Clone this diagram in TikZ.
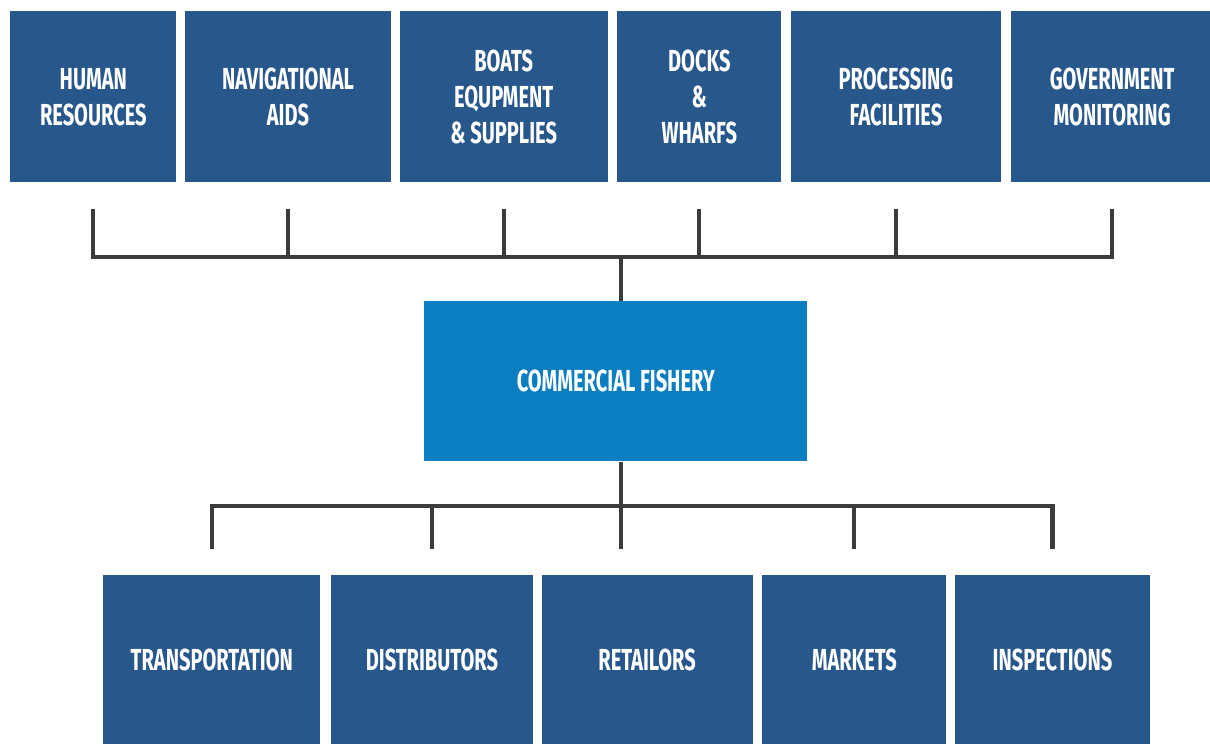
\documentclass[tikz,border=0pt]{standalone}
\usepackage{fontspec}
\setmainfont[FakeStretch=0.66]{Fira Sans}
\usepackage{xcolor}
\usepackage{tikz}
\usetikzlibrary{positioning}

\definecolor{boxblue}{HTML}{28578C}
\definecolor{mainblue}{HTML}{0B7DC1}
\definecolor{linegray}{HTML}{3C3C3C}

\begin{document}
\begin{tikzpicture}[x=0.02cm, y=-0.02cm, node distance=0.16cm,
    item/.style={rectangle, fill=boxblue, text=white, align=center, inner sep=0pt,
        font=\bfseries\fontsize{17.3}{20.5}\selectfont},
    toprow/.style={item, minimum height=3.42cm},
    botrow/.style={item, minimum height=3.38cm},
    hub/.style={item, fill=mainblue, minimum width=7.66cm, minimum height=3.2cm},
    link/.style={draw=linegray, line width=2.3pt, line join=miter}]
    \useasboundingbox (0,0) rectangle (1210,744);

    % Nodes
    \node [toprow, minimum width=3.32cm, anchor=north west] (hr) at (10,11) {HUMAN\\RESOURCES};
    \node [toprow, minimum width=4.12cm, right=of hr] (nav) {NAVIGATIONAL\\AIDS};
    \node [toprow, minimum width=4.16cm, right=of nav] (boats) {BOATS\\EQUPMENT\\\& SUPPLIES};
    \node [toprow, minimum width=3.28cm, right=0.18cm of boats] (docks) {DOCKS\\\&\\WHARFS};
    \node [toprow, minimum width=4.2cm, right=0.18cm of docks] (proc) {PROCESSING\\FACILITIES};
    \node [toprow, minimum width=4.06cm, right=0.18cm of proc] (gov) {GOVERNMENT\\MONITORING};

    \node [hub, anchor=north west] (fishery) at (424,301) {COMMERCIAL FISHERY};

    \node [botrow, minimum width=4.34cm, anchor=north west] (trans) at (103,575) {TRANSPORTATION};
    \node [botrow, minimum width=4.04cm, right=0.2cm of trans] (dist) {DISTRIBUTORS};
    \node [botrow, minimum width=4.22cm, right=of dist] (ret) {RETAILORS};
    \node [botrow, minimum width=3.68cm, right=0.18cm of ret] (markets) {MARKETS};
    \node [botrow, minimum width=3.9cm, right=of markets] (insp) {INSPECTIONS};

    \coordinate (topbar) at (621,257);
    \coordinate (botbar) at (621,506);

    % Path
    \draw [link] ([yshift=-0.52cm]hr.south) -- (hr.south |- topbar) -- (gov.south |- topbar) -- ([yshift=-0.52cm]gov.south);
    \foreach \n in {nav,boats,docks,proc}
        \draw [link] ([yshift=-0.52cm]\n.south) -- (\n.south |- topbar);
    \draw [link] (topbar) -- (fishery.north -| topbar);

    \draw [link] (fishery.south -| botbar) -- ([yshift=0.52cm]ret.north -| botbar);
    \draw [link] ([yshift=0.52cm]trans.north) -- (trans.north |- botbar) -- (insp.north |- botbar) -- ([yshift=0.52cm]insp.north);
    \foreach \n in {dist,markets}
        \draw [link] ([yshift=0.52cm]\n.north) -- (\n.north |- botbar);
\end{tikzpicture}
\end{document}
